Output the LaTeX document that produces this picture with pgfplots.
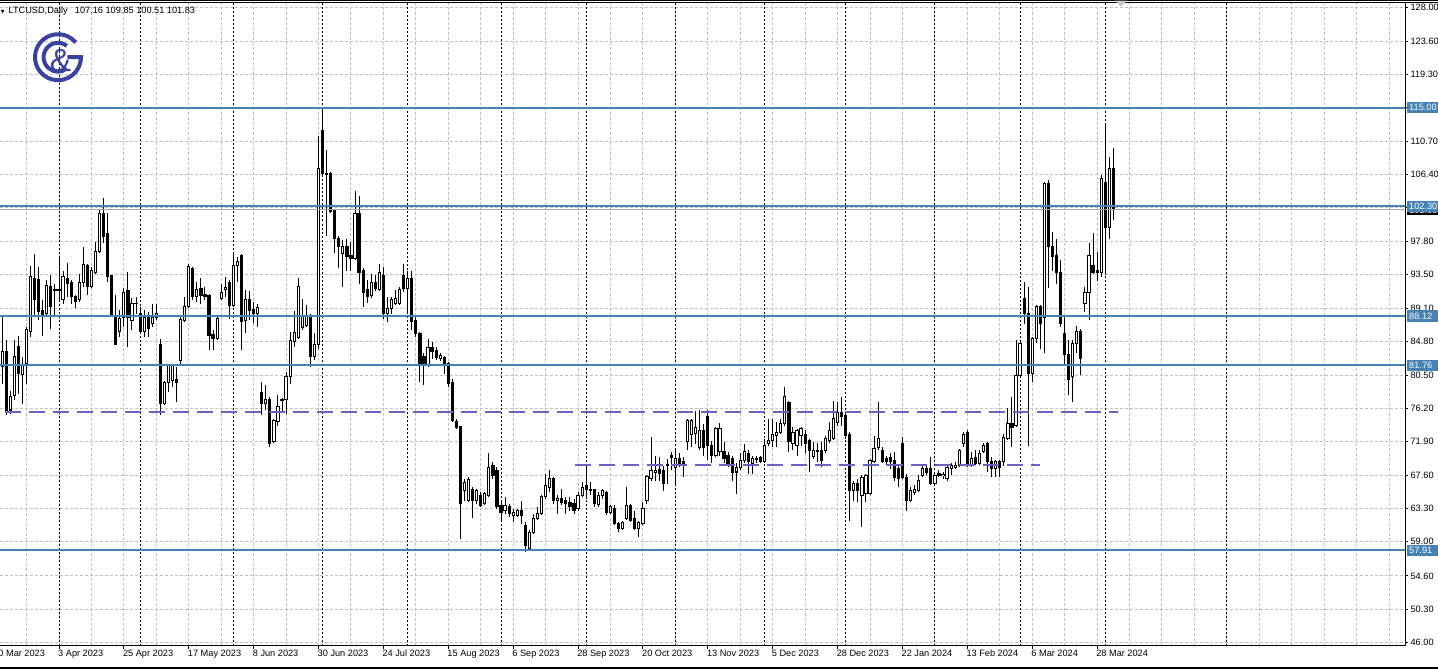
\documentclass[border=0pt]{standalone}
\usepackage{pgfplots}
\pgfplotsset{compat=1.18}
\usepackage{pgfplotstable}
\usepackage{fontspec}
\setmainfont{Liberation Sans}
\definecolor{lvl}{RGB}{70,130,180}
\definecolor{dsh}{RGB}{100,100,195}
\definecolor{logo}{RGB}{58,66,160}
\definecolor{gridc}{RGB}{192,192,192}
\newcommand{\tf}{\fontsize{4.6pt}{5.5pt}\selectfont}

\pgfplotstableread{
i o h l c
-14 81.6 88.2 79.4 83.6
-13 83.6 85.0 75.3 76.0
-12 76.0 78.5 75.5 77.8
-11 77.9 85.0 77.3 82.9
-10 84.2 85.5 78.1 80.7
-9 80.6 82.9 76.8 81.9
-8 82.0 86.7 79.4 86.4
-7 86.1 94.6 85.4 93.2
-6 93.0 96.1 88.0 90.2
-5 92.8 94.5 87.6 88.7
-4 88.8 90.2 85.6 88.1
-3 88.4 92.8 88.0 92.1
-2 92.0 93.4 86.5 89.3
-1 91.5 92.3 88.0 91.4
0 91.4 95.8 90.2 91.5
1 90.2 94.0 89.7 93.2
2 93.0 95.0 90.6 92.3
3 92.4 92.8 89.7 90.6
4 90.6 90.8 89.1 90.0
5 90.2 93.6 90.0 92.5
6 92.5 97.0 91.9 94.8
7 94.6 94.9 90.9 91.9
8 91.9 94.5 91.7 94.0
9 93.8 97.7 93.6 96.4
10 96.4 102.0 96.2 101.3
11 101.3 103.3 97.5 98.4
12 98.8 101.4 92.5 93.2
13 93.3 93.4 88.0 88.2
14 88.2 90.8 84.4 84.5
15 86.1 88.9 85.4 87.8
16 88.0 91.7 86.7 91.2
17 91.4 93.8 84.1 88.0
18 87.6 90.4 86.3 89.7
19 89.7 90.6 88.4 89.8
20 88.4 89.3 85.9 86.1
21 86.1 88.9 85.4 87.9
22 88.0 88.7 85.4 86.5
23 87.2 89.7 86.7 87.9
24 87.9 89.7 87.6 88.5
25 84.5 85.2 75.3 76.8
26 76.8 79.8 76.6 79.6
27 79.6 82.0 78.3 81.8
28 79.8 82.0 79.0 81.8
29 80.0 81.6 77.0 79.5
30 82.4 88.0 82.0 87.7
31 87.6 90.6 87.4 89.3
32 89.3 94.9 89.1 94.5
33 94.3 94.5 90.2 90.6
34 90.6 92.5 90.0 91.5
35 91.7 93.0 89.7 90.8
36 90.9 91.9 90.2 90.6
37 90.8 91.0 83.7 85.6
38 85.8 86.3 83.7 85.2
39 85.2 88.0 85.0 87.8
40 90.4 92.3 90.2 91.2
41 91.5 93.2 90.6 91.8
42 92.5 92.8 87.8 89.5
43 89.5 96.2 89.3 94.7
44 94.7 95.8 92.5 95.1
45 96.0 96.1 83.7 87.4
46 87.6 91.5 85.9 90.2
47 90.3 91.4 87.6 88.9
48 89.0 90.0 87.2 88.4
49 88.4 89.7 86.7 89.2
50 78.3 79.6 75.3 76.9
51 76.8 79.2 76.0 77.3
52 77.3 77.7 71.2 71.7
53 71.9 74.9 71.7 74.7
54 74.5 77.9 74.0 76.4
55 77.2 77.6 75.7 77.3
56 77.3 80.9 75.5 80.3
57 80.3 86.1 79.4 85.0
58 84.8 88.8 84.1 86.0
59 85.4 93.0 85.2 91.9
60 86.7 90.3 86.3 88.2
61 86.9 89.5 86.7 88.2
62 88.1 88.4 81.6 82.9
63 82.9 85.9 82.4 84.4
64 84.4 111.4 83.9 107.2
65 112.1 115.1 106.3 106.5
66 106.5 109.5 98.4 106.4
67 106.5 106.7 101.4 101.6
68 101.7 101.8 96.2 98.1
69 98.1 98.4 94.3 97.1
70 96.2 97.9 91.9 97.1
71 97.1 98.1 94.0 95.8
72 96.0 97.7 94.0 95.6
73 95.6 104.3 95.3 101.4
74 101.4 103.6 92.3 93.8
75 94.0 94.3 89.3 91.2
76 91.5 92.8 89.8 90.6
77 90.8 93.6 90.4 92.4
78 92.4 93.4 91.3 91.7
79 91.5 94.9 91.3 93.8
80 93.4 94.5 87.8 88.4
81 88.4 90.6 87.4 89.1
82 89.1 90.6 88.4 90.2
83 89.7 91.5 89.5 90.4
84 89.7 91.9 89.5 91.5
85 93.4 94.9 91.2 91.7
86 91.7 94.0 88.7 93.0
87 93.0 94.0 86.3 87.4
88 87.6 88.0 85.4 85.9
89 85.9 86.1 79.6 82.0
90 82.9 83.3 79.2 81.8
91 81.8 85.2 81.6 84.1
92 84.1 84.8 82.6 83.5
93 83.7 84.1 82.4 82.8
94 82.6 83.3 82.3 83.0
95 82.8 83.0 80.7 81.8
96 82.0 82.2 79.0 79.4
97 79.6 80.0 74.5 74.7
98 74.5 74.9 73.6 73.8
99 73.9 74.0 59.4 63.9
100 65.6 67.1 64.3 66.7
101 64.3 67.4 64.1 67.0
102 65.8 66.0 62.0 64.3
103 64.3 65.8 63.9 65.6
104 65.0 65.4 63.5 63.7
105 63.9 65.4 63.7 65.2
106 65.0 70.5 64.8 68.6
107 68.9 69.3 67.1 67.6
108 68.2 68.6 63.2 63.5
109 63.7 64.1 61.5 62.8
110 63.0 64.8 62.6 63.7
111 63.5 63.9 62.2 62.6
112 62.4 63.2 61.5 62.8
113 62.4 63.2 62.2 63.0
114 63.0 64.3 61.3 62.4
115 61.1 61.5 57.7 58.5
116 58.1 60.5 57.9 60.2
117 60.2 62.6 60.0 62.0
118 62.0 63.5 61.8 62.6
119 62.6 65.0 62.4 64.8
120 64.8 67.8 64.5 66.3
121 66.0 68.2 65.4 67.1
122 67.1 67.4 63.9 64.3
123 64.3 65.0 62.6 64.6
124 64.6 65.8 63.7 64.1
125 64.3 64.8 62.6 64.0
126 64.1 64.8 63.0 63.5
127 63.9 64.5 62.6 63.0
128 63.3 65.4 63.0 65.0
129 65.0 66.7 64.8 66.0
130 66.3 68.8 64.5 65.8
131 65.8 66.7 65.0 65.6
132 65.7 65.8 63.5 63.9
133 63.8 65.4 63.5 65.0
134 65.0 65.8 64.5 65.6
135 65.3 65.6 62.4 62.8
136 62.8 63.7 62.6 63.5
137 63.3 63.7 61.1 61.3
138 61.3 61.5 60.2 60.7
139 60.7 61.7 60.5 61.5
140 62.0 66.0 61.8 63.7
141 63.7 63.9 61.5 61.8
142 62.0 63.0 60.5 60.7
143 60.7 61.7 59.6 61.5
144 61.3 64.1 61.1 63.3
145 64.3 67.6 63.9 67.4
146 67.1 72.5 66.9 68.2
147 68.0 70.1 66.9 68.2
148 68.3 69.9 66.9 67.8
149 68.2 68.8 65.6 66.5
150 69.0 69.7 66.5 68.9
151 70.1 70.6 68.2 69.9
152 68.6 70.8 66.3 69.7
153 69.8 70.4 68.6 69.1
154 69.4 69.9 67.4 69.1
155 71.9 74.9 70.8 74.7
156 72.9 74.9 71.2 74.7
157 73.0 75.9 71.6 73.8
158 71.2 76.0 70.8 73.4
159 73.4 74.2 70.1 71.2
160 75.1 76.0 69.5 71.4
161 71.4 72.0 69.1 70.1
162 70.1 73.8 69.9 73.6
163 70.6 74.3 70.1 73.6
164 70.6 71.9 69.1 69.7
165 70.1 70.6 68.6 69.1
166 69.7 70.1 66.9 68.0
167 68.0 69.1 65.2 68.6
168 68.6 70.4 68.2 69.5
169 69.5 71.6 69.1 70.6
170 70.4 70.8 67.8 69.3
171 69.1 70.1 67.8 69.7
172 69.7 70.1 69.1 69.6
173 69.9 70.1 69.1 69.3
174 69.3 72.3 69.1 71.4
175 71.7 74.9 71.4 72.1
176 72.1 74.9 71.2 72.9
177 72.7 74.5 71.2 73.1
178 73.1 74.9 72.9 74.2
179 74.2 79.0 74.0 77.7
180 77.0 77.2 70.6 71.9
181 71.7 73.8 70.8 73.1
182 71.4 73.6 70.1 73.4
183 72.7 73.8 71.4 73.6
184 72.9 73.4 70.4 71.7
185 72.1 72.3 68.0 70.8
186 70.0 71.9 69.7 70.8
187 70.8 71.7 69.3 70.6
188 70.8 71.9 68.6 69.5
189 70.8 72.7 70.4 72.3
190 72.1 74.5 71.7 73.4
191 72.3 77.2 72.1 74.9
192 74.4 77.0 74.0 75.7
193 75.7 77.7 74.0 75.1
194 75.3 75.7 72.3 72.7
195 72.9 73.1 61.7 65.6
196 65.6 66.9 64.3 66.5
197 66.5 67.1 64.1 65.6
198 65.0 67.6 60.9 67.3
199 65.2 67.8 64.1 67.6
200 65.2 69.7 65.0 69.5
201 69.3 72.7 69.1 71.0
202 71.2 77.0 70.8 72.3
203 70.8 71.2 69.1 69.3
204 69.7 70.1 68.9 69.3
205 69.9 70.4 68.4 69.3
206 69.5 70.6 66.9 67.3
207 68.4 68.8 66.0 67.1
208 71.7 72.5 67.1 67.3
209 67.3 67.8 63.0 64.3
210 64.3 66.0 64.1 65.6
211 65.4 66.3 65.0 65.8
212 65.6 67.6 65.4 66.9
213 67.6 68.8 67.3 68.4
214 68.4 68.8 67.6 68.0
215 68.4 69.9 66.3 66.5
216 66.5 68.0 66.3 67.6
217 67.8 68.2 67.3 67.6
218 67.5 68.0 67.1 67.7
219 67.1 68.8 66.9 68.6
220 68.4 69.1 67.6 68.8
221 68.6 69.3 68.4 68.8
222 68.8 71.0 68.6 70.8
223 71.7 73.1 71.2 72.9
224 73.1 73.4 68.6 68.8
225 68.8 70.6 68.6 69.7
226 69.9 70.8 68.9 69.1
227 69.1 70.8 68.9 70.4
228 70.6 71.7 70.4 71.4
229 71.7 71.9 68.0 69.3
230 69.3 69.9 67.3 68.4
231 68.4 69.5 67.3 69.3
232 69.3 69.5 67.3 68.6
233 69.3 72.9 68.8 72.5
234 72.3 76.2 72.1 74.2
235 74.2 77.7 71.2 73.8
236 74.0 85.0 73.8 80.5
237 80.5 85.0 80.3 84.6
238 90.4 92.5 87.1 88.4
239 88.4 91.9 71.4 80.7
240 80.7 85.4 79.6 85.2
241 85.2 89.5 84.6 89.3
242 89.3 89.5 83.9 87.1
243 88.0 105.4 83.3 105.2
244 105.2 105.7 91.7 97.1
245 97.1 99.0 94.0 95.8
246 96.0 98.1 92.3 93.8
247 93.8 95.3 86.7 87.1
248 85.9 88.0 82.0 83.1
249 83.1 85.0 77.9 80.0
250 80.3 85.0 77.0 84.6
251 84.6 86.9 83.3 86.1
252 86.1 86.5 80.5 82.6
253 89.7 91.9 88.7 91.2
254 91.2 97.5 87.6 96.0
255 94.7 98.8 93.6 93.8
256 94.0 96.4 92.7 93.8
257 93.8 106.3 93.2 105.9
258 105.4 112.8 93.4 99.6
259 99.6 108.7 98.1 107.2
260 107.16 109.85 100.51 101.83
}\ltc

\pgfplotsset{candle/.style={only marks, mark=*, mark size=0pt, mark options={draw opacity=0, fill opacity=0},
  error bars/.cd, y dir=plus, y explicit, error mark=none}}

\begin{document}
\begin{tikzpicture}
\useasboundingbox (0,0) rectangle (719pt,335.5pt);
\fill[white] (0,0) rectangle (719pt,335.5pt);
\begin{axis}[
  at={(0pt,12.75pt)}, anchor=south west, scale only axis,
  width=702.5pt, height=321.25pt,
  xmin=-14.55, xmax=331.93, ymin=45.61, ymax=128.52,
  clip=false,
  axis line style={draw=none},
  xtick={-8,0,...,328}, xticklabels={},
  ytick={128,123.6,119.3,115,110.7,106.4,102.1,97.8,93.5,89.1,84.8,80.5,76.2,71.9,67.6,63.3,59,54.6,50.3,46},
  yticklabels={},
  tick style={draw=none}, major tick length=0pt,
  xmajorgrids, ymajorgrids,
  grid style={gridc, dash pattern=on 1.5pt off 1pt, line width=0.5pt},
]
% month separators
\pgfplotsinvokeforeach{0,20,43,65,86,109,130,152,174,194,216,237,258,288}{
  \draw[black, line width=0.5pt, dash pattern=on 1pt off 1pt] (axis cs:#1,45.61) -- (axis cs:#1,128.52);
}
% candles: wicks
\addplot[candle, error bar style={line width=0.5pt, draw=black}]
  table[x=i, y expr=\thisrow{l}, y error plus expr={\thisrow{h}-\thisrow{l}}] {\ltc};
% bodies (outline / black)
\addplot[candle, error bar style={line width=1.6pt, draw=black}]
  table[x=i, y expr={min(\thisrow{o},\thisrow{c})-0.065}, y error plus expr={abs(\thisrow{c}-\thisrow{o})+0.13}] {\ltc};
% bull bodies interior
\addplot[candle, error bar style={line width=0.6pt, draw=white}]
  table[x=i, y expr={min(\thisrow{o},\thisrow{c})+0.065}, y error plus expr={(\thisrow{c}>\thisrow{o}) ? max(\thisrow{c}-\thisrow{o}-0.13,0) : 0}] {\ltc};
% bid line
\addplot[gray!70, line width=0.5pt] coordinates {(-14.55,101.83) (331.93,101.83)};
% horizontal levels
\addplot[lvl, line width=1pt] coordinates {(-14.55,115.00) (331.93,115.00)};
\addplot[lvl, line width=1pt] coordinates {(-14.55,102.30) (331.93,102.30)};
\addplot[lvl, line width=1pt] coordinates {(-14.55,88.12) (331.93,88.12)};
\addplot[lvl, line width=1pt] coordinates {(-14.55,81.76) (331.93,81.76)};
\addplot[lvl, line width=1pt] coordinates {(-14.55,57.91) (331.93,57.91)};
% dashed lines
\addplot[dsh, line width=1pt, dash pattern=on 8pt off 4pt] coordinates {(-13.2,75.70) (261.2,75.70)};
\addplot[dsh, line width=1pt, dash pattern=on 8pt off 4pt] coordinates {(127.3,68.86) (242.0,68.86)};
% axis frame
\draw[black, line width=0.5pt] (axis cs:331.93,45.61) -- (axis cs:331.93,128.52);
\draw[black, line width=0.5pt] (axis cs:-14.55,45.61) -- (axis cs:331.93,45.61);
% y tick labels
\pgfplotsinvokeforeach{128.00,123.60,119.30,115.00,110.70,106.40,102.10,97.80,93.50,89.10,84.80,80.50,76.20,71.90,67.60,63.30,59.00,54.60,50.30,46.00}{
  \draw[black, line width=0.5pt] (axis cs:331.93,#1) -- ([xshift=1.6pt]axis cs:331.93,#1);
  \node[anchor=west, inner sep=0pt, font=\tf, xshift=2.6pt] at (axis cs:331.93,#1) {#1};
}
% date ticks
\pgfplotsinvokeforeach{0,16,...,256}{
  \draw[black, line width=0.5pt] (axis cs:#1,45.61) -- ([yshift=-1.6pt]axis cs:#1,45.61);
}
\node[anchor=north west, inner sep=0pt, font=\tf, yshift=-2.2pt, xshift=-0.6pt] at (axis cs:-16,45.61) {10 Mar 2023};
\node[anchor=north west, inner sep=0pt, font=\tf, yshift=-2.2pt, xshift=-0.6pt] at (axis cs:0,45.61) {3 Apr 2023};
\node[anchor=north west, inner sep=0pt, font=\tf, yshift=-2.2pt, xshift=-0.6pt] at (axis cs:16,45.61) {25 Apr 2023};
\node[anchor=north west, inner sep=0pt, font=\tf, yshift=-2.2pt, xshift=-0.6pt] at (axis cs:32,45.61) {17 May 2023};
\node[anchor=north west, inner sep=0pt, font=\tf, yshift=-2.2pt, xshift=-0.6pt] at (axis cs:48,45.61) {8 Jun 2023};
\node[anchor=north west, inner sep=0pt, font=\tf, yshift=-2.2pt, xshift=-0.6pt] at (axis cs:64,45.61) {30 Jun 2023};
\node[anchor=north west, inner sep=0pt, font=\tf, yshift=-2.2pt, xshift=-0.6pt] at (axis cs:80,45.61) {24 Jul 2023};
\node[anchor=north west, inner sep=0pt, font=\tf, yshift=-2.2pt, xshift=-0.6pt] at (axis cs:96,45.61) {15 Aug 2023};
\node[anchor=north west, inner sep=0pt, font=\tf, yshift=-2.2pt, xshift=-0.6pt] at (axis cs:112,45.61) {6 Sep 2023};
\node[anchor=north west, inner sep=0pt, font=\tf, yshift=-2.2pt, xshift=-0.6pt] at (axis cs:128,45.61) {28 Sep 2023};
\node[anchor=north west, inner sep=0pt, font=\tf, yshift=-2.2pt, xshift=-0.6pt] at (axis cs:144,45.61) {20 Oct 2023};
\node[anchor=north west, inner sep=0pt, font=\tf, yshift=-2.2pt, xshift=-0.6pt] at (axis cs:160,45.61) {13 Nov 2023};
\node[anchor=north west, inner sep=0pt, font=\tf, yshift=-2.2pt, xshift=-0.6pt] at (axis cs:176,45.61) {5 Dec 2023};
\node[anchor=north west, inner sep=0pt, font=\tf, yshift=-2.2pt, xshift=-0.6pt] at (axis cs:192,45.61) {28 Dec 2023};
\node[anchor=north west, inner sep=0pt, font=\tf, yshift=-2.2pt, xshift=-0.6pt] at (axis cs:208,45.61) {22 Jan 2024};
\node[anchor=north west, inner sep=0pt, font=\tf, yshift=-2.2pt, xshift=-0.6pt] at (axis cs:224,45.61) {13 Feb 2024};
\node[anchor=north west, inner sep=0pt, font=\tf, yshift=-2.2pt, xshift=-0.6pt] at (axis cs:240,45.61) {6 Mar 2024};
\node[anchor=north west, inner sep=0pt, font=\tf, yshift=-2.2pt, xshift=-0.6pt] at (axis cs:256,45.61) {28 Mar 2024};
% anchors for level labels
\coordinate (lA) at (axis cs:331.93,115.00);
\coordinate (lB) at (axis cs:331.93,102.30);
\coordinate (lBid) at (axis cs:331.93,101.83);
\coordinate (lC) at (axis cs:331.93,88.12);
\coordinate (lD) at (axis cs:331.93,81.76);
\coordinate (lE) at (axis cs:331.93,57.91);
\end{axis}
% level labels
\tikzset{lvlab/.style={anchor=west, inner xsep=0.9pt, inner ysep=0pt, minimum height=5.6pt, text width=14.2pt, font=\tf, text=white, xshift=1pt}}
\node[lvlab, fill=black] at (lBid) {101.83};
\node[lvlab, fill=lvl] at (lA) {115.00};
\node[lvlab, fill=lvl] at (lB) {102.30};
\node[lvlab, fill=lvl] at (lC) {88.12};
\node[lvlab, fill=lvl] at (lD) {81.76};
\node[lvlab, fill=lvl] at (lE) {57.91};
% window borders
\draw[black, line width=0.6pt] (0,335.2pt) -- (719pt,335.2pt);
\draw[black, line width=0.5pt] (0,334pt) -- (719pt,334pt);
\draw[black, line width=0.6pt] (0,1.5pt) -- (719pt,1.5pt);
% chart shift marker
\fill[gray!45] (557.5pt,335.2pt) -- (563.5pt,335.2pt) -- (560.5pt,332.2pt) -- cycle;
% title
\fill[black] (0.4pt,330.6pt) -- (2.2pt,330.6pt) -- (1.3pt,328.8pt) -- cycle;
\node[anchor=west, inner sep=0pt, font=\tf] at (4.1pt,329.7pt) {LTCUSD,Daily\hspace{3.6pt}107.16 109.85 100.51 101.83};
% logo
\draw[logo, line width=2pt] ([shift={(40:11.5pt)}]29pt,306.9pt) arc[start angle=40, end angle=360, radius=11.5pt] -- ++(-6.8pt,0pt);
\draw[logo, line width=2pt] ([shift={(52:7.2pt)}]29pt,306.9pt) arc[start angle=52, end angle=308, radius=7.2pt];
\node[text=logo, inner sep=0pt, font=\fontsize{16pt}{16pt}\selectfont] at (30.3pt,305.4pt) {\&};
\end{tikzpicture}
\end{document}
